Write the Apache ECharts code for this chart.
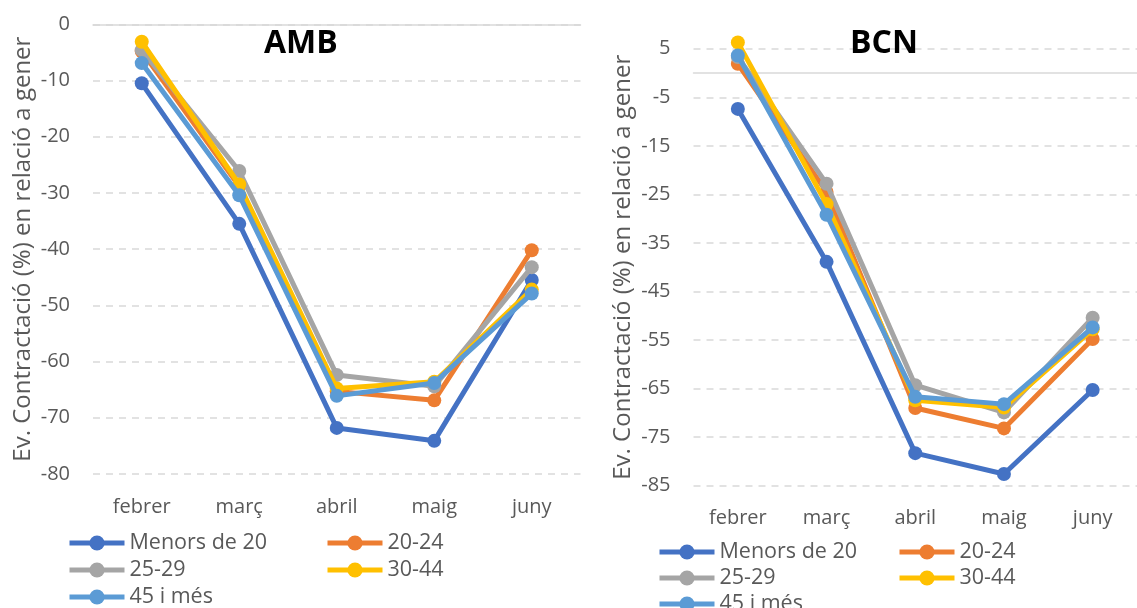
<!DOCTYPE html>
<html>
<head>
<meta charset="utf-8">
<script src="https://cdn.jsdelivr.net/npm/echarts@6/dist/echarts.min.js"></script>
<style>
  html, body { margin: 0; padding: 0; background: #fff; }
  #chart { width: 1137px; height: 608px; }
</style>
</head>
<body>
<div id="chart"></div>
<script>
const categories = ['febrer', 'març', 'abril', 'maig', 'juny'];
const seriesNames = ['Menors de 20', '20-24', '25-29', '30-44', '45 i més'];

// AMB
const ambMenors20 = [-10.5, -35.5, -71.8, -74.1, -45.5];
const amb2024 = [-4.8, -28.8, -65.3, -66.9, -40.2];
const amb2529 = [-4.6, -26.1, -62.4, -64.4, -43.2];
const amb3044 = [-3.1, -28.5, -64.8, -63.6, -47.2];
const amb45 = [-6.9, -30.4, -66.1, -63.8, -47.9];

// BCN
const bcnMenors20 = [-7.4, -38.9, -78.3, -82.6, -65.3];
const bcn2024 = [1.9, -24.5, -69.0, -73.2, -54.8];
const bcn2529 = [3.3, -22.8, -64.3, -69.9, -50.4];
const bcn3044 = [6.3, -27.0, -67.4, -68.9, -52.8];
const bcn45 = [3.6, -29.2, -66.7, -68.2, -52.4];

const ambTicks = { min: -80, max: 0, interval: 10 };
const bcnTicks = { min: -85, max: 5, interval: 10 };

const colors = ['#4472C4', '#ED7D31', '#A5A5A5', '#FFC000', '#5B9BD5'];
const FONT = 'Open Sans';
const GREY = '#595959';

const ambData = [ambMenors20, amb2024, amb2529, amb3044, amb45];
const bcnData = [bcnMenors20, bcn2024, bcn2529, bcn3044, bcn45];

function yAxisFor(grid, ticks) {
  return {
    type: 'value', gridIndex: grid,
    min: ticks.min, max: ticks.max, interval: ticks.interval,
    name: 'Ev. Contractació (%) en relació a gener',
    nameLocation: 'middle', nameGap: 58,
    nameTextStyle: { fontFamily: FONT, fontSize: 24, color: GREY },
    axisLine: { show: false }, axisTick: { show: false },
    axisLabel: { fontFamily: FONT, fontSize: 20, color: GREY, margin: 23 },
    splitLine: { show: true, lineStyle: { color: '#d9d9d9', width: 1.5, type: [7, 6] } }
  };
}

function xAxesFor(grid, yIndex) {
  return [
    {
      type: 'category', gridIndex: grid, data: categories, boundaryGap: true,
      position: 'bottom',
      axisLine: { show: false, onZero: false }, axisTick: { show: false },
      axisLabel: { fontFamily: FONT, fontSize: 20, color: GREY, margin: 23 },
      splitLine: { show: false }
    },
    {
      type: 'category', gridIndex: grid, data: categories, boundaryGap: true,
      position: 'top',
      axisLine: { show: true, onZero: true, onZeroAxisIndex: yIndex, lineStyle: { color: '#d9d9d9', width: 1.5 } },
      axisTick: { show: false }, axisLabel: { show: false }, splitLine: { show: false }
    }
  ];
}

const series = [];
[ambData, bcnData].forEach((group, g) => {
  group.forEach((vals, i) => {
    series.push({
      name: seriesNames[i], type: 'line',
      xAxisIndex: g * 2, yAxisIndex: g,
      data: vals, clip: false,
      symbol: 'circle', symbolSize: 14,
      lineStyle: { width: 5, color: colors[i] },
      itemStyle: { color: colors[i] },
      z: 2 + i
    });
  });
});

function legendItem(name, left, centerY) {
  return {
    orient: 'horizontal', left: left, top: centerY - 12, padding: 0,
    itemWidth: 55, itemHeight: 19,
    data: [name],
    lineStyle: { width: 5 },
    textStyle: { fontFamily: FONT, fontSize: 21.5, color: GREY, lineHeight: 24 }
  };
}

const option = {
  animation: false,
  color: colors,
  title: [
    { text: 'AMB', left: 259, top: 23, textStyle: { fontFamily: FONT, fontWeight: 'bold', fontSize: 32, color: '#000' } },
    { text: 'BCN', left: 845, top: 23, textStyle: { fontFamily: FONT, fontWeight: 'bold', fontSize: 32, color: '#000' } }
  ],
  grid: [
    { left: 93, top: 24.3, width: 487.5, height: 449.7 },
    { left: 693.5, top: 48.7, width: 449.5, height: 437 }
  ],
  xAxis: [...xAxesFor(0, 0), ...xAxesFor(1, 1)],
  yAxis: [yAxisFor(0, ambTicks), yAxisFor(1, bcnTicks)],
  legend: [
    legendItem('Menors de 20', 67, 543),
    legendItem('20-24', 325, 543),
    legendItem('25-29', 67, 570),
    legendItem('30-44', 325, 570),
    legendItem('45 i més', 67, 597),
    legendItem('Menors de 20', 657, 552),
    legendItem('20-24', 897, 552),
    legendItem('25-29', 657, 578),
    legendItem('30-44', 897, 578),
    legendItem('45 i més', 657, 604)
  ],
  series: series
};

const chart = echarts.init(document.getElementById('chart'));
chart.setOption(option);
</script>
</body>
</html>
